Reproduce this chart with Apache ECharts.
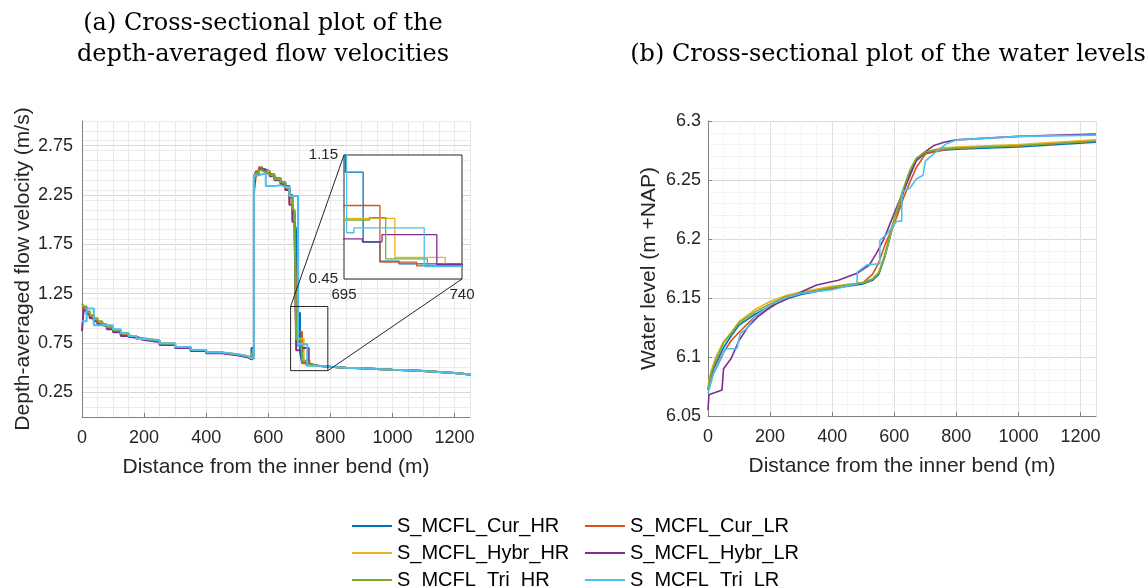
<!DOCTYPE html>
<html lang="en">
<head>
    <meta charset="utf-8" />
    <title>Cross-sectional plots</title>
    <style>
      html, body { margin: 0; padding: 0; background: #fff; }
      #main { width: 1146px; height: 587px; }
    </style>
</head>
<body>
    <div id="main"></div>
    <script src="https://cdn.jsdelivr.net/npm/echarts@6/dist/echarts.min.js"></script>
    <script>
    // run names, in plot order
    var runNames = ['S_MCFL_Cur_HR', 'S_MCFL_Cur_LR', 'S_MCFL_Hybr_HR', 'S_MCFL_Hybr_LR', 'S_MCFL_Tri_HR', 'S_MCFL_Tri_LR'];

    // (a) depth-averaged velocity, 0 - 685 m (stairs)
    var velX = [0, 5, 15, 25, 38, 50, 65, 80, 100, 125, 150, 175, 200, 250, 300, 350, 400, 450, 500, 535, 546, 554, 560, 570, 580, 592, 605, 620, 640, 655, 668, 678, 685];
    var velCurHR  = [1.12, 1.10, 1.05, 1.02, 0.99, 0.96, 0.93, 0.90, 0.87, 0.84, 0.81, 0.79, 0.77, 0.74, 0.705, 0.675, 0.65, 0.63, 0.61, 0.59, 0.70, 2.44, 2.48, 2.52, 2.51, 2.49, 2.46, 2.42, 2.38, 2.34, 2.25, 2.08, 1.95];
    var velCurLR  = [1.10, 1.08, 1.06, 1.02, 0.98, 0.95, 0.93, 0.90, 0.87, 0.83, 0.81, 0.79, 0.77, 0.74, 0.705, 0.675, 0.65, 0.63, 0.61, 0.59, 0.62, 2.42, 2.49, 2.53, 2.50, 2.48, 2.45, 2.41, 2.37, 2.32, 2.22, 2.05, 1.92];
    var velHybrHR = [1.13, 1.11, 1.06, 1.03, 0.99, 0.96, 0.93, 0.91, 0.88, 0.85, 0.82, 0.795, 0.775, 0.745, 0.71, 0.68, 0.655, 0.635, 0.615, 0.595, 0.61, 2.25, 2.45, 2.51, 2.50, 2.48, 2.45, 2.41, 2.37, 2.31, 2.18, 2.00, 1.88];
    var velHybrLR = [0.87, 1.08, 1.04, 1.00, 0.97, 0.94, 0.92, 0.89, 0.86, 0.82, 0.80, 0.78, 0.76, 0.73, 0.70, 0.67, 0.645, 0.625, 0.605, 0.585, 0.60, 2.30, 2.46, 2.51, 2.50, 2.47, 2.44, 2.40, 2.36, 2.30, 2.15, 1.98, 1.90];
    var velTriHR  = [1.15, 1.12, 1.07, 1.03, 1.00, 0.97, 0.94, 0.91, 0.88, 0.85, 0.82, 0.795, 0.775, 0.745, 0.71, 0.68, 0.655, 0.635, 0.615, 0.595, 0.64, 2.40, 2.47, 2.50, 2.48, 2.46, 2.44, 2.41, 2.38, 2.33, 2.24, 2.10, 1.97];
    var velTriLR  = [0.97, 0.97, 1.10, 1.10, 0.93, 0.93, 0.93, 0.93, 0.89, 0.85, 0.82, 0.79, 0.775, 0.745, 0.71, 0.68, 0.655, 0.635, 0.615, 0.595, 0.60, 2.45, 2.45, 2.46, 2.47, 2.34, 2.34, 2.35, 2.33, 2.33, 2.24, 2.24, 2.24];

    // (a) zoomed part 690 - 740 m, each run has its own steps
    var zoomCurHRX  = [690, 695.5, 702.3, 708.7, 716, 740];
    var zoomCurHRY  = [1.90, 1.053, 0.659, 0.551, 0.535, 0.52];
    var zoomCurLRX  = [690, 708.7, 722.7, 740];
    var zoomCurLRY  = [0.865, 0.545, 0.524, 0.52];
    var zoomHybrHRX = [690, 714.4, 733.6, 740];
    var zoomHybrHRY = [0.792, 0.572, 0.524, 0.52];
    var zoomHybrLRX = [690, 702, 709.5, 730.4, 740];
    var zoomHybrLRY = [0.677, 0.66, 0.70, 0.532, 0.52];
    var zoomTriHRX  = [690, 704.8, 710.9, 726.8, 740];
    var zoomTriHRY  = [0.783, 0.796, 0.564, 0.526, 0.52];
    var zoomTriLRX  = [690, 696, 698.8, 725.6, 740];
    var zoomTriLRY  = [2.24, 0.711, 0.739, 0.52, 0.52];

    // (a) downstream part, all runs alike
    var tailX = [740, 760, 800, 850, 900, 950, 1000, 1050, 1100, 1150, 1200, 1250];
    var tailY = [0.52, 0.51, 0.50, 0.495, 0.487, 0.48, 0.475, 0.465, 0.455, 0.445, 0.43, 0.42];

    // zoom window drawn in (a), and the inset ranges
    var zoomBoxX = [672, 792];
    var zoomBoxY = [0.47, 1.12];
    var insetX = [695, 740];
    var insetY = [0.45, 1.15];

    // (b) water level
    var levelX = [0, 10, 25, 50, 75, 100, 150, 200, 250, 300, 400, 500, 530, 550, 570, 590, 610, 630, 650, 670, 700, 750, 800, 1000, 1250];
    var levelCurHR  = [6.072, 6.085, 6.094, 6.108, 6.118, 6.127, 6.136, 6.143, 6.149, 6.153, 6.158, 6.162, 6.165, 6.170, 6.185, 6.205, 6.223, 6.240, 6.255, 6.266, 6.273, 6.275, 6.276, 6.278, 6.282];
    var levelCurLR  = [6.072, 6.083, 6.090, 6.104, 6.114, 6.121, 6.134, 6.143, 6.149, 6.154, 6.158, 6.163, 6.170, 6.180, 6.195, 6.207, 6.220, 6.235, 6.248, 6.260, 6.272, 6.275, 6.277, 6.279, 6.283];
    var levelHybrHR = [6.075, 6.088, 6.100, 6.113, 6.121, 6.130, 6.140, 6.147, 6.152, 6.155, 6.160, 6.163, 6.166, 6.172, 6.186, 6.206, 6.225, 6.242, 6.258, 6.268, 6.274, 6.277, 6.278, 6.280, 6.284];
    var levelTriHR  = [6.073, 6.086, 6.097, 6.112, 6.120, 6.129, 6.138, 6.145, 6.151, 6.154, 6.159, 6.163, 6.166, 6.171, 6.187, 6.208, 6.226, 6.243, 6.258, 6.268, 6.274, 6.276, 6.277, 6.279, 6.283];
    var levelHybrLRX = [0, 3, 45, 50, 75, 100, 130, 160, 190, 220, 260, 300, 350, 420, 480, 520, 543, 565, 585, 608, 640, 672, 700, 726, 760, 800, 1000, 1250];
    var levelHybrLR  = [6.055, 6.068, 6.072, 6.090, 6.099, 6.114, 6.126, 6.134, 6.140, 6.145, 6.150, 6.155, 6.161, 6.165, 6.171, 6.178, 6.188, 6.199, 6.212, 6.227, 6.247, 6.267, 6.274, 6.279, 6.282, 6.284, 6.287, 6.289];
    var levelTriLRX = [0, 18, 45, 55, 93, 104, 125, 150, 200, 250, 300, 400, 480, 481, 512, 553, 554, 576, 608, 624, 625, 650, 672, 693, 700, 740, 770, 800, 1000, 1250];
    var levelTriLR  = [6.069, 6.086, 6.100, 6.107, 6.107, 6.120, 6.124, 6.134, 6.144, 6.150, 6.154, 6.157, 6.162, 6.172, 6.178, 6.179, 6.199, 6.204, 6.215, 6.215, 6.240, 6.243, 6.251, 6.254, 6.266, 6.275, 6.281, 6.284, 6.287, 6.288];

    var colors = ['#0072BD', '#D95319', '#EDB120', '#7E2F8E', '#77AC30', '#4DBEEE'];
    var sans = '"Liberation Sans", Arial, sans-serif';
    var serif = '"DejaVu Serif", serif';
    var txt = '#262626';

    function pairs(xs, ys) {
      return xs.map(function(x, i) { return [x, ys[i]]; });
    }

    var velRuns = [velCurHR, velCurLR, velHybrHR, velHybrLR, velTriHR, velTriLR];
    var zoomRunsX = [zoomCurHRX, zoomCurLRX, zoomHybrHRX, zoomHybrLRX, zoomTriHRX, zoomTriLRX];
    var zoomRunsY = [zoomCurHRY, zoomCurLRY, zoomHybrHRY, zoomHybrLRY, zoomTriHRY, zoomTriLRY];
    var levelRunsX = [levelX, levelX, levelX, levelHybrLRX, levelX, levelTriLRX];
    var levelRuns = [levelCurHR, levelCurLR, levelHybrHR, levelHybrLR, levelTriHR, levelTriLR];

    var series = [];
    for (var i = 0; i < runNames.length; i++) {
      // (a) full profile
      series.push({
        name: runNames[i], type: 'line', step: 'end', symbol: 'none',
        xAxisIndex: 0, yAxisIndex: 0,
        lineStyle: { width: 2, color: colors[i] }, itemStyle: { color: colors[i] },
        data: pairs(velX, velRuns[i]).concat(pairs(zoomRunsX[i], zoomRunsY[i]), pairs(tailX, tailY))
      });
      // (a) inset
      series.push({
        name: runNames[i], type: 'line', step: 'end', symbol: 'none',
        xAxisIndex: 2, yAxisIndex: 2, clip: true,
        lineStyle: { width: 1.3, color: colors[i] }, itemStyle: { color: colors[i] },
        data: pairs(zoomRunsX[i], zoomRunsY[i])
      });
      // (b) water level
      series.push({
        name: runNames[i], type: 'line', symbol: 'none',
        xAxisIndex: 3, yAxisIndex: 3,
        lineStyle: { width: 1.6, color: colors[i] }, itemStyle: { color: colors[i] },
        data: pairs(levelRunsX[i], levelRuns[i])
      });
    }

    function mainX(grid) {
      return {
        gridIndex: grid, type: 'value', min: 0, max: 1250, interval: 200,
        axisLine: { show: true, onZero: false, lineStyle: { color: '#808080' } },
        axisTick: { show: true, inside: true, length: 4, lineStyle: { color: '#808080' } },
        axisLabel: { fontSize: 18, color: txt, margin: 12, fontFamily: sans, showMaxLabel: false,
          formatter: function(v) { return String(v); } },
        splitLine: { show: true, lineStyle: { color: '#d9d9d9' } },
        name: 'Distance from the inner bend (m)', nameLocation: 'middle', nameGap: 40,
        nameTextStyle: { fontSize: 21, color: txt, fontFamily: sans }
      };
    }
    function minorX(grid, type) {
      return {
        gridIndex: grid, type: 'value', min: 0, max: 1250, interval: 50, position: 'top',
        axisLine: { show: false }, axisTick: { show: false }, axisLabel: { show: false },
        splitLine: { show: true, lineStyle: { color: '#e9e9e9', type: type } }
      };
    }
    function legendCol(left, names) {
      return {
        orient: 'vertical', left: left, top: 511, height: 120,
        icon: 'rect', itemWidth: 40, itemHeight: 2, itemGap: 7,
        selectedMode: false, data: names,
        textStyle: { fontSize: 20, lineHeight: 20, color: '#000', fontFamily: sans }
      };
    }

    var option = {
      backgroundColor: '#fff',
      animation: false,
      grid: [
        { left: 82, top: 121, width: 388, height: 296 },
        { left: 344, top: 155, width: 118, height: 124, show: true, backgroundColor: '#fff', borderColor: '#262626', borderWidth: 1, z: 1 },
        { left: 708, top: 121, width: 388, height: 295 }
      ],
      xAxis: [
        mainX(0),
        minorX(0, 'solid'),
        {
          gridIndex: 1, type: 'value', min: insetX[0], max: insetX[1], interval: insetX[1] - insetX[0],
          axisLine: { show: false }, axisTick: { show: false }, splitLine: { show: false },
          axisLabel: { fontSize: 15, color: txt, margin: 8, fontFamily: sans }
        },
        mainX(2),
        minorX(2, 'dotted')
      ],
      yAxis: [
        {
          gridIndex: 0, type: 'value', min: 0, max: 3, interval: 0.25,
          axisLine: { show: true, onZero: false, lineStyle: { color: '#808080' } },
          axisTick: { show: false },
          axisLabel: {
            fontSize: 18, color: txt, margin: 9, fontFamily: sans,
            formatter: function(v) { return Math.round(v * 4) % 2 === 1 ? v.toFixed(2) : ''; }
          },
          splitLine: { show: true, lineStyle: { color: ['rgba(0,0,0,0)', '#d6d6d6'] } },
          name: 'Depth-averaged flow velocity (m/s)', nameLocation: 'middle', nameGap: 47,
          nameTextStyle: { fontSize: 21, color: txt, fontFamily: sans }
        },
        {
          gridIndex: 0, type: 'value', min: 0, max: 3, interval: 0.1, position: 'right',
          axisLine: { show: false }, axisTick: { show: false }, axisLabel: { show: false },
          splitLine: { show: true, lineStyle: { color: '#ececec' } }
        },
        {
          gridIndex: 1, type: 'value', min: insetY[0], max: insetY[1], interval: insetY[1] - insetY[0],
          axisLine: { show: false }, axisTick: { show: false }, splitLine: { show: false },
          axisLabel: { fontSize: 15, color: txt, margin: 6, fontFamily: sans,
            formatter: function(v) { return v.toFixed(2); } }
        },
        {
          gridIndex: 2, type: 'value', min: 6.05, max: 6.3, interval: 0.05,
          axisLine: { show: true, onZero: false, lineStyle: { color: '#808080' } },
          axisTick: { show: true, inside: true, length: 4, lineStyle: { color: '#808080' } },
          axisLabel: { fontSize: 18, color: txt, margin: 7, fontFamily: sans,
            formatter: function(v) { return String(+v.toFixed(2)); } },
          splitLine: { show: true, lineStyle: { color: '#d9d9d9' } },
          minorTick: { show: false, splitNumber: 5 },
          minorSplitLine: { show: true, lineStyle: { color: '#e6e6e6', type: 'dotted' } },
          name: 'Water level (m +NAP)', nameLocation: 'middle', nameGap: 48,
          nameTextStyle: { fontSize: 21, color: txt, fontFamily: sans }
        }
      ],
      legend: [
        legendCol(347, [runNames[0], runNames[2], runNames[4]]),
        legendCol(580, [runNames[1], runNames[3], runNames[5]])
      ],
      graphic: [
        { id: 'ta1', type: 'text', x: 263, y: 24, z: 10,
          style: { text: '(a) Cross-sectional plot of the', font: '24px ' + serif, fill: '#000', textAlign: 'center', textVerticalAlign: 'middle' } },
        { id: 'ta2', type: 'text', x: 263, y: 55, z: 10,
          style: { text: 'depth-averaged flow velocities', font: '24px ' + serif, fill: '#000', textAlign: 'center', textVerticalAlign: 'middle' } },
        { id: 'tb', type: 'text', x: 888, y: 55, z: 10,
          style: { text: '(b) Cross-sectional plot of the water levels', font: '24px ' + serif, fill: '#000', textAlign: 'center', textVerticalAlign: 'middle' } }
      ],
      series: series
    };

    var myChart = echarts.init(document.getElementById('main'));
    myChart.setOption(option);

    // zoom window and connector lines, placed through the axes
    var boxA = myChart.convertToPixel({ xAxisIndex: 0, yAxisIndex: 0 }, [zoomBoxX[0], zoomBoxY[1]]);
    var boxB = myChart.convertToPixel({ xAxisIndex: 0, yAxisIndex: 0 }, [zoomBoxX[1], zoomBoxY[0]]);
    var insA = myChart.convertToPixel({ xAxisIndex: 2, yAxisIndex: 2 }, [insetX[0], insetY[1]]);
    var insB = myChart.convertToPixel({ xAxisIndex: 2, yAxisIndex: 2 }, [insetX[1], insetY[0]]);
    myChart.setOption({
      graphic: [
        { id: 'box', type: 'rect', z: 10,
          shape: { x: boxA[0], y: boxA[1], width: boxB[0] - boxA[0], height: boxB[1] - boxA[1] },
          style: { fill: 'none', stroke: '#262626', lineWidth: 1 } },
        { id: 'c1', type: 'line', z: 10,
          shape: { x1: boxA[0], y1: boxA[1], x2: insA[0], y2: insA[1] },
          style: { stroke: '#262626', lineWidth: 1 } },
        { id: 'c2', type: 'line', z: 10,
          shape: { x1: boxB[0], y1: boxB[1], x2: insB[0], y2: insB[1] },
          style: { stroke: '#262626', lineWidth: 1 } }
      ]
    });
    </script>
</body>
</html>
